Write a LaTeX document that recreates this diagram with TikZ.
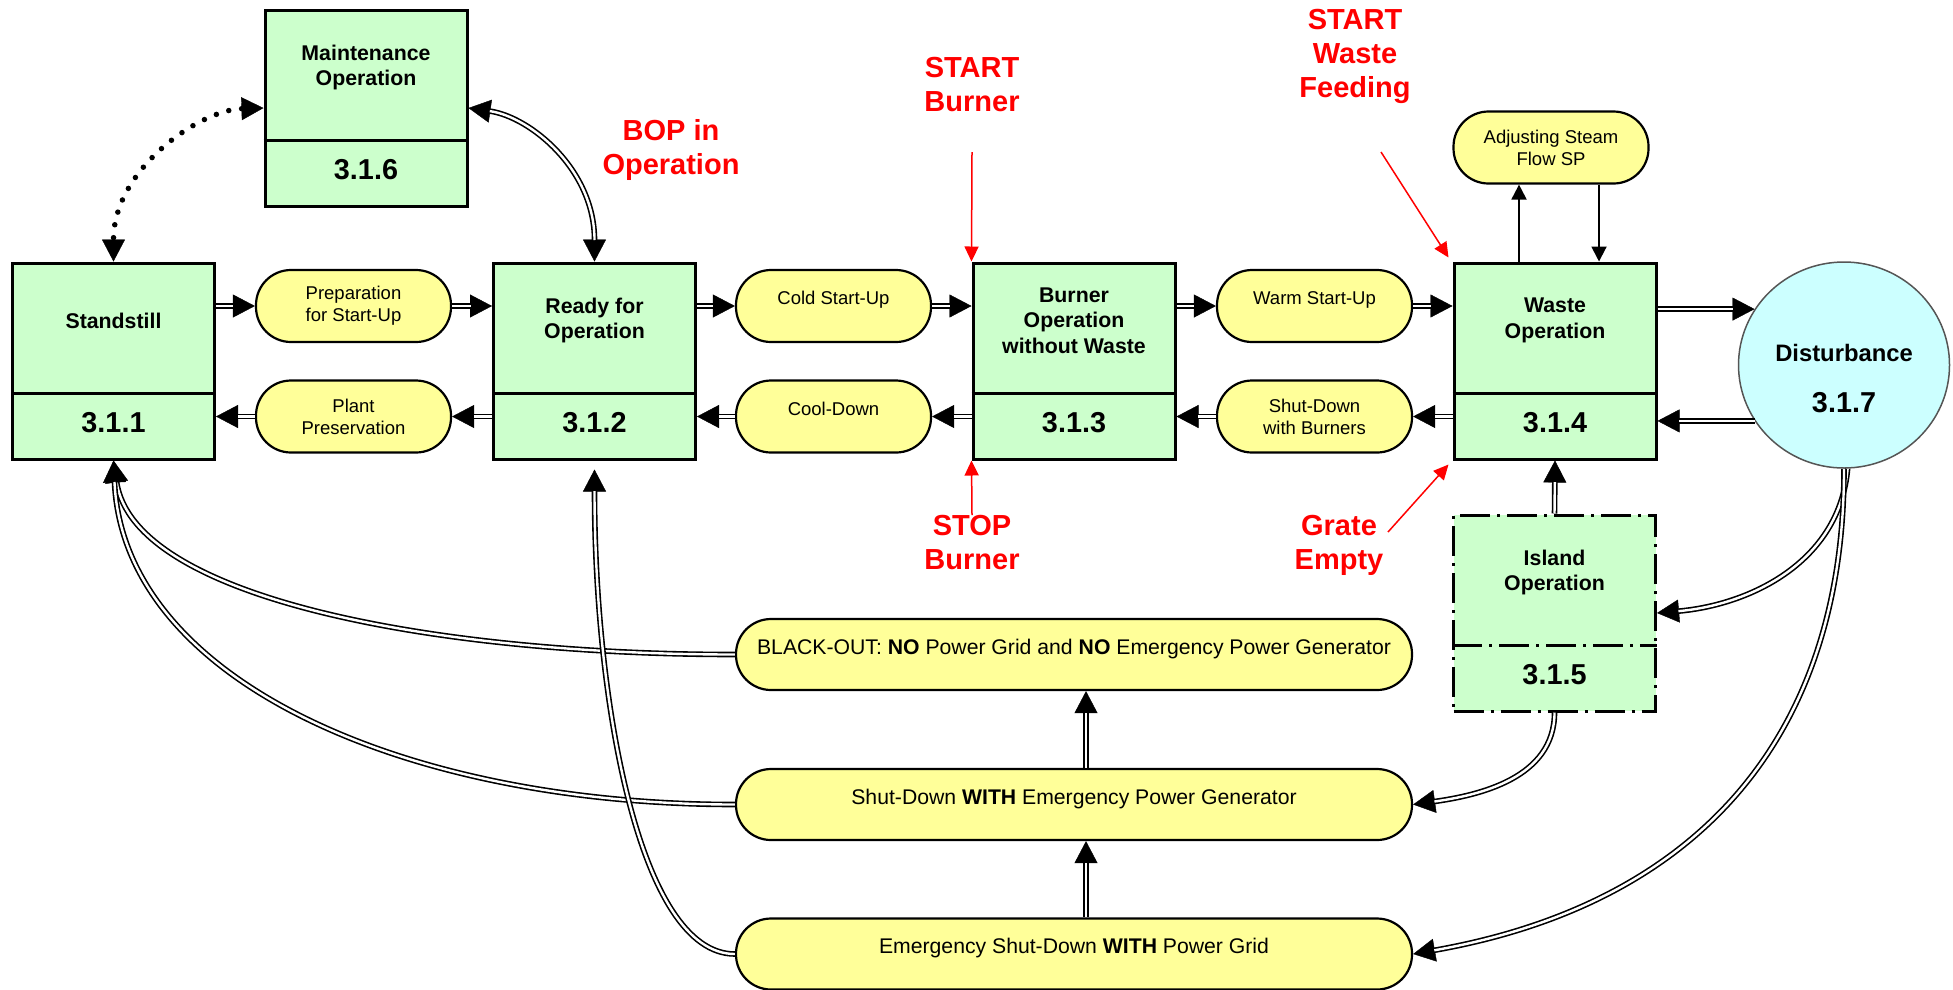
\documentclass[tikz,border=0pt]{standalone}
\usepackage{fontspec}
\setmainfont{Liberation Sans}
\usetikzlibrary{arrows.meta,shapes.geometric}

\definecolor{gfill}{HTML}{CCFFCC}
\definecolor{yfill}{HTML}{FFFF99}
\definecolor{cfill}{HTML}{CCFFFF}
\definecolor{redc}{HTML}{FF0000}
\definecolor{cgray}{HTML}{555555}

\tikzset{
 gbox/.style={draw=black, fill=gfill, line width=3pt, minimum width=202pt, minimum height=196pt, inner sep=0pt},
 divline/.style={line width=3pt},
 ttl/.style={font=\fontsize{21.3}{25.5}\selectfont\bfseries, align=center, inner sep=0pt},
 num/.style={font=\fontsize{28.8}{34}\selectfont\bfseries, inner sep=0pt},
 pill/.style={draw=black, fill=yfill, line width=2.2pt, rounded corners=35pt, minimum width=195pt, minimum height=72pt, inner sep=0pt, align=center, font=\fontsize{18.5}{22}\selectfont},
 lpill/.style={pill, minimum width=676pt, minimum height=71pt, font=\fontsize{21.2}{25}\selectfont},
 upone/.style={text depth=16pt},
 redtxt/.style={text=redc, font=\fontsize{29}{34}\selectfont\bfseries, align=center, inner sep=0pt},
 redarr/.style={draw=redc, line width=1.5pt, -{Triangle[length=15pt,width=14pt]}},
 sarr/.style={draw=black, line width=2pt, -{Triangle[length=15pt,width=15pt]}},
 dbl/.style={draw=black, double=white, line width=1.6pt, double distance=2.4pt},
 tipE/.style={line width=0.4pt, -{Triangle[length=22pt,width=23pt]}},
 tipB/.style={line width=0.4pt, {Triangle[length=22pt,width=23pt]}-{Triangle[length=22pt,width=23pt]}},
 isl/.style={dash pattern=on 30pt off 7pt on 3pt off 7pt},
}

\newcommand\gstate[5][]{%
 \node[gbox,#1] (#2) at (#3) {};
 \draw[divline,#1] ([yshift=-132pt]#2.north west) -- ([yshift=-132pt]#2.north east);
 \node[ttl] (#2t) at ([yshift=-59pt]#2.north) {#4};
 \node[num] (#2n) at ([yshift=-161pt]#2.north) {#5};
}
\newcommand\dconn[1]{\draw[tipE] #1; \draw[dbl, shorten >=21.5pt] #1;}

\begin{document}
\begin{tikzpicture}[x=1pt,y=1pt]
\useasboundingbox (0,0) rectangle (1953,-989);

% state boxes
\gstate{maint}{366,-108}{Maintenance\\Operation}{3.1.6}
\gstate{ss}{113.5,-361}{Standstill}{3.1.1}
\gstate{ready}{594.5,-361}{Ready for\\Operation}{3.1.2}
\gstate{burner}{1074,-361}{Burner\\Operation\\without Waste}{3.1.3}
\gstate{waste}{1555,-361}{Waste\\Operation}{3.1.4}
\gstate[isl]{island}{1554.5,-613}{Island\\Operation}{3.1.5}

% disturbance
\node[ellipse, draw=cgray, fill=cfill, line width=1.5pt, minimum width=211pt, minimum height=206pt, inner sep=0pt] (dist) at (1844,-365) {};
\node[font=\fontsize{23.8}{28}\selectfont\bfseries, inner sep=0pt] (distt) at (1844,-353) {Disturbance};
\node[num] (distn) at (1844,-403) {3.1.7};

% transition pills
\node[pill] (prep) at (353.5,-306) {Preparation\\for Start-Up};
\node[pill] (plant) at (353.5,-416.5) {Plant\\Preservation};
\node[pill,upone] (cold) at (833.5,-306) {Cold Start-Up};
\node[pill,upone] (cool) at (833.5,-416.5) {Cool-Down};
\node[pill,upone] (warm) at (1314.5,-306) {Warm Start-Up};
\node[pill] (shutb) at (1314.5,-416.5) {Shut-Down\\with Burners};
\node[pill] (adjust) at (1551,-147.5) {Adjusting Steam\\Flow SP};

\node[lpill,upone] (blackout) at (1074,-654.5) {BLACK-OUT: \textbf{NO} Power Grid and \textbf{NO} Emergency Power Generator};
\node[lpill,upone] (shutw) at (1074,-804.5) {Shut-Down \textbf{WITH} Emergency Power Generator};
\node[lpill,upone] (emerg) at (1074,-954) {Emergency Shut-Down \textbf{WITH} Power Grid};

% red annotations
\node[redtxt] (bop) at (671,-150) {BOP in\\Operation};
\node[redtxt] (sb) at (972,-84.5) {START\\Burner};
\node[redtxt] (swf) at (1355,-56) {START\\Waste\\Feeding};
\node[redtxt] (stb) at (972,-542.5) {STOP\\Burner};
\node[redtxt] (ge) at (1339,-545.5) {Grate\\Empty};

\coordinate (sbA) at (972,-152);
\coordinate (swfA) at (1381,-152);
\coordinate (stbA) at (972,-515);
\coordinate (geA) at (1388,-532);
\draw[redarr] (sbA) -- (burner.north west);
\draw[redarr] (swfA) -- ([shift={(-4pt,4pt)}]waste.north west);
\draw[redarr] (stbA) -- (burner.south west);
\draw[redarr] (geA) -- ([shift={(-4pt,-4pt)}]waste.south west);

% main chain
\dconn{(ss.east |- prep.west) -- (prep.west)}
\dconn{(prep.east) -- (ready.west |- prep.east)}
\dconn{(ready.east |- cold.west) -- (cold.west)}
\dconn{(cold.east) -- (burner.west |- cold.east)}
\dconn{(burner.east |- warm.west) -- (warm.west)}
\dconn{(warm.east) -- (waste.west |- warm.east)}
\dconn{(waste.east |- dist.148) -- (dist.148)}
\dconn{(dist.212) -- (waste.east |- dist.212)}
\dconn{(waste.west |- shutb.east) -- (shutb.east)}
\dconn{(shutb.west) -- (burner.east |- shutb.west)}
\dconn{(burner.west |- cool.east) -- (cool.east)}
\dconn{(cool.west) -- (ready.east |- cool.west)}
\dconn{(ready.west |- plant.east) -- (plant.east)}
\dconn{(plant.west) -- (ss.east |- plant.west)}

% steam flow
\draw[sarr] ([xshift=-36pt]waste.north) -- ([xshift=-36pt]waste.north |- adjust.south);
\draw[sarr] ([xshift=44pt]waste.north |- adjust.south) -- ([xshift=44pt]waste.north);

% island and disturbance
\dconn{(island.north) -- (waste.south)}
\dconn{(dist.-88) to[out=-95,in=5] (island.east)}
\dconn{(dist.-90) to[out=-90,in=10,looseness=1.1] (emerg.east)}
\dconn{(island.south) to[out=-90,in=8] (shutw.east)}

% emergency chain
\dconn{([xshift=12pt]emerg.north) -- ([xshift=12pt]shutw.south)}
\dconn{([xshift=12pt]shutw.north) -- ([xshift=12pt]blackout.south)}
\dconn{(blackout.west) .. controls +(-300,0) and +(20,-138) .. (ss.south)}
\dconn{(shutw.west) .. controls +(-330,0) and +(10,-220) .. (ss.south)}
\dconn{(emerg.west) .. controls +(-96,0) and +(0,-230) .. ([yshift=-9pt]ready.south)}

% maintenance
\draw[tipB] (maint.east) .. controls +(62,-9) and +(0,92) .. (ready.north);
\draw[dbl, shorten <=21.5pt, shorten >=21.5pt] (maint.east) .. controls +(62,-9) and +(0,92) .. (ready.north);
\draw[line width=5.5pt, dash pattern=on 0pt off 13pt, line cap=round, {Triangle[length=22pt,width=23pt,line width=0.4pt]}-{Triangle[length=22pt,width=23pt,line width=0.4pt]}] (maint.west) .. controls +(-64,-2) and +(0,92) .. (ss.north);

\end{tikzpicture}
\end{document}
